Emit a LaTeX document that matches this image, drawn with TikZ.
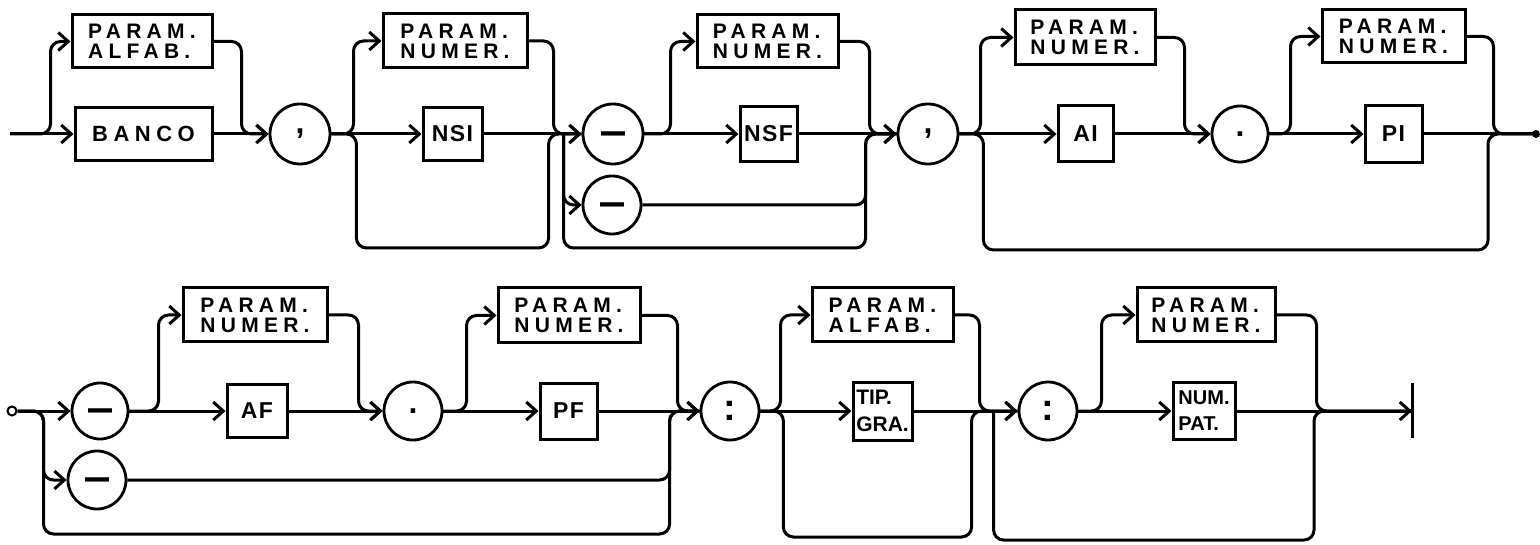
\documentclass[tikz,border=0pt]{standalone}
\usepackage{fontspec}
\usepackage{graphicx}
\setmainfont{Liberation Sans}
\newfontfamily\wide[LetterSpace=25]{Liberation Sans}
\newfontfamily\narrow[LetterSpace=6]{Liberation Sans}
\usetikzlibrary{arrows.meta}
\tikzset{
  ln/.style={line width=3pt, rounded corners=10pt},
  arr/.style={ln, -{Straight Barb[length=10pt,width=18pt]}},
  pbox/.style={draw, line width=3pt, inner sep=0pt, align=left,
    font=\wide\bfseries\fontsize{21}{20}\selectfont},
  sbox/.style={draw, line width=3pt, inner sep=0pt, align=left,
    font=\narrow\bfseries\fontsize{23}{27}\selectfont},
  tbox/.style={draw, line width=3pt, inner sep=0pt, align=left,
    font=\bfseries\fontsize{21}{27}\selectfont},
  circ/.style={draw, circle, line width=2.8pt, inner sep=0pt,
    font=\bfseries\fontsize{32}{32}\selectfont},
  colon/.style={circ, font=\bfseries\fontsize{38}{38}\selectfont},
}
\newcommand{\dashsym}{{\fontsize{24}{24}\selectfont\smash{\raisebox{-0.46em}{\scalebox{1}[1.8]{—}}}}}
\begin{document}
\begin{tikzpicture}[x=1pt,y=-1pt]
\useasboundingbox (0,0) rectangle (1540,545);
% ---------------- Row 1 ----------------
\coordinate (s1) at (10,134);
\node[pbox, minimum width=140pt, minimum height=53pt] (pa1) at (142,41.5) {PARAM.\\ALFAB.};
\node[pbox, minimum width=137pt, minimum height=53pt, font=\wide\bfseries\fontsize{22}{22}\selectfont] (banco) at (143.5,134) {BANCO};
\node[circ, minimum size=60pt] (c1) at (300,134) {,};
\node[pbox, minimum width=144pt, minimum height=54pt] (pn1) at (455,41) {PARAM.\\NUMER.};
\node[sbox, minimum width=59pt, minimum height=53pt] (nsi) at (452.5,134) {NSI};
\node[circ, minimum size=60pt] (c2) at (613,134) {\dashsym};
\node[circ, minimum size=58pt] (c3) at (612,205) {\dashsym};
\node[pbox, minimum width=141pt, minimum height=53pt] (pn2) at (767.5,41.5) {PARAM.\\NUMER.};
\node[sbox, minimum width=57pt, minimum height=55pt] (nsf) at (768.5,134) {NSF};
\node[circ, minimum size=60pt] (c4) at (928,134) {,};
\node[pbox, minimum width=140pt, minimum height=55pt] (pn3) at (1085,37.5) {PARAM.\\NUMER.};
\node[sbox, minimum width=55pt, minimum height=56pt] (ai) at (1085.5,134) {AI};
\node[circ, minimum size=56pt] (c5) at (1240,134) {.};
\node[pbox, minimum width=143pt, minimum height=53pt] (pn4) at (1393.5,36.5) {PARAM.\\NUMER.};
\node[sbox, minimum width=57pt, minimum height=57pt] (pi) at (1393.5,134) {PI};
\coordinate (e1) at (1536,134);

\draw[arr] (s1) -- (banco.west);
\draw[arr] (s1) -| ([xshift=-20pt]pa1.west) -- (pa1.west);
\draw[arr] (pa1.east) -- ++(28,0) |- (c1.west);
\draw[arr] (banco.east) -- (c1.west);

\draw[arr] (c1.east) -- (nsi.west);
\draw[arr] (c1.east) -| ([xshift=-28pt]pn1.west) -- (pn1.west);
\draw[ln] (c1.east) -- ++(25,0) -- ++(0,114) -| ([xshift=-33pt]c2.west) -- (c2.west);
\draw[arr] (pn1.east) -- ++(25,0) |- (c2.west);
\draw[arr] (nsi.east) -- (c2.west);

\draw[arr] ([xshift=-18pt]c2.west) |- (c3.west);
\draw[ln] ([xshift=-18pt]c2.west) -- ++(0,114) -| ([xshift=-31pt]c4.west) -- (c4.west);
\draw[arr] (c2.east) -- (nsf.west);
\draw[arr] (c2.east) -| ([xshift=-25pt]pn2.west) -- (pn2.west);
\draw[arr] (pn2.east) -- ++(30,0) |- (c4.west);
\draw[arr] (nsf.east) -- (c4.west);
\draw[ln] (c3.east) -| ([xshift=-31pt]c4.west) -- (c4.west);

\draw[arr] (c4.east) -- (ai.west);
\draw[arr] (c4.east) -| ([xshift=-33pt]pn3.west) -- (pn3.west);
\draw[ln] (c4.east) -- ++(24,0) -- ++(0,116) -| ([xshift=-48pt]e1) -- (e1);
\draw[arr] (pn3.east) -- ++(28,0) |- (c5.west);
\draw[arr] (ai.east) -- (c5.west);

\draw[arr] (c5.east) -- (pi.west);
\draw[arr] (c5.east) -| ([xshift=-30pt]pn4.west) -- (pn4.west);
\draw[ln] (pn4.east) -- ++(27,0) |- (e1);
\draw[ln] (pi.east) -- (e1);
\fill (e1) circle (4);

% ---------------- Row 2 ----------------
\node[draw, circle, line width=2pt, minimum size=9pt, inner sep=0pt] (s2) at (12,411) {};
\node[circ, minimum size=56pt] (c6) at (100,411) {\dashsym};
\node[circ, minimum size=58pt] (c7) at (97,480) {\dashsym};
\node[pbox, minimum width=144pt, minimum height=54pt] (pn5) at (255,315) {PARAM.\\NUMER.};
\node[sbox, minimum width=60pt, minimum height=53pt] (af) at (257,411) {AF};
\node[circ, minimum size=58pt] (c8) at (413,411) {.};
\node[pbox, minimum width=142pt, minimum height=55pt] (pn6) at (569,315.5) {PARAM.\\NUMER.};
\node[sbox, minimum width=57pt, minimum height=56pt] (pf) at (568.5,411) {PF};
\node[colon, minimum size=58pt] (c9) at (730,411) {:};
\node[pbox, minimum width=141pt, minimum height=54pt] (pa2) at (882.5,315) {PARAM.\\ALFAB.};
\node[tbox, minimum width=59pt, minimum height=58pt] (tip) at (882.5,411) {TIP.\\GRA.};
\node[colon, minimum size=58pt] (c10) at (1048,411) {:};
\node[pbox, minimum width=138pt, minimum height=54pt] (pn7) at (1206,315) {PARAM.\\NUMER.};
\node[tbox, minimum width=62pt, minimum height=57pt, font=\bfseries\fontsize{20}{26}\selectfont] (numpat) at (1204,411) {NUM.\\PAT.};
\coordinate (e2) at (1412,411);

\draw[arr] (s2.east) -- (c6.west);
\draw[arr] (s2.east) -- ++(26,0) |- (c7.west);
\draw[ln] (s2.east) -- ++(26,0) -- ++(0,123) -| ([xshift=-30pt]c9.west) -- (c9.west);
\draw[arr] (c6.east) -- (af.west);
\draw[arr] (c6.east) -| ([xshift=-23pt]pn5.west) -- (pn5.west);
\draw[arr] (pn5.east) -- ++(30,0) |- (c8.west);
\draw[arr] (af.east) -- (c8.west);

\draw[arr] (c8.east) -- (pf.west);
\draw[arr] (c8.east) -| ([xshift=-30pt]pn6.west) -- (pn6.west);
\draw[arr] (pn6.east) -- ++(36,0) |- (c9.west);
\draw[arr] (pf.east) -- (c9.west);
\draw[ln] (c7.east) -| ([xshift=-30pt]c9.west) -- (c9.west);

\draw[arr] (c9.east) -- (tip.west);
\draw[arr] (c9.east) -| ([xshift=-30pt]pa2.west) -- (pa2.west);
\draw[ln] (c9.east) -- ++(23,0) -- ++(0,126) -| ([xshift=-46pt]c10.west) -- (c10.west);
\draw[arr] (pa2.east) -- ++(25,0) |- (c10.west);
\draw[arr] (tip.east) -- (c10.west);

\draw[ln] ([xshift=-24pt]c10.west) -- ++(0,129) -| ([xshift=-98pt]e2) -- (e2);
\draw[arr] (c10.east) -- (numpat.west);
\draw[arr] (c10.east) -| ([xshift=-34pt]pn7.west) -- (pn7.west);
\draw[ln] (pn7.east) -- ++(40,0) |- (e2);
\draw[arr] (numpat.east) -- (e2);
\draw[line width=3pt] ([yshift=28pt]e2) -- ([yshift=-27pt]e2);
\end{tikzpicture}
\end{document}
